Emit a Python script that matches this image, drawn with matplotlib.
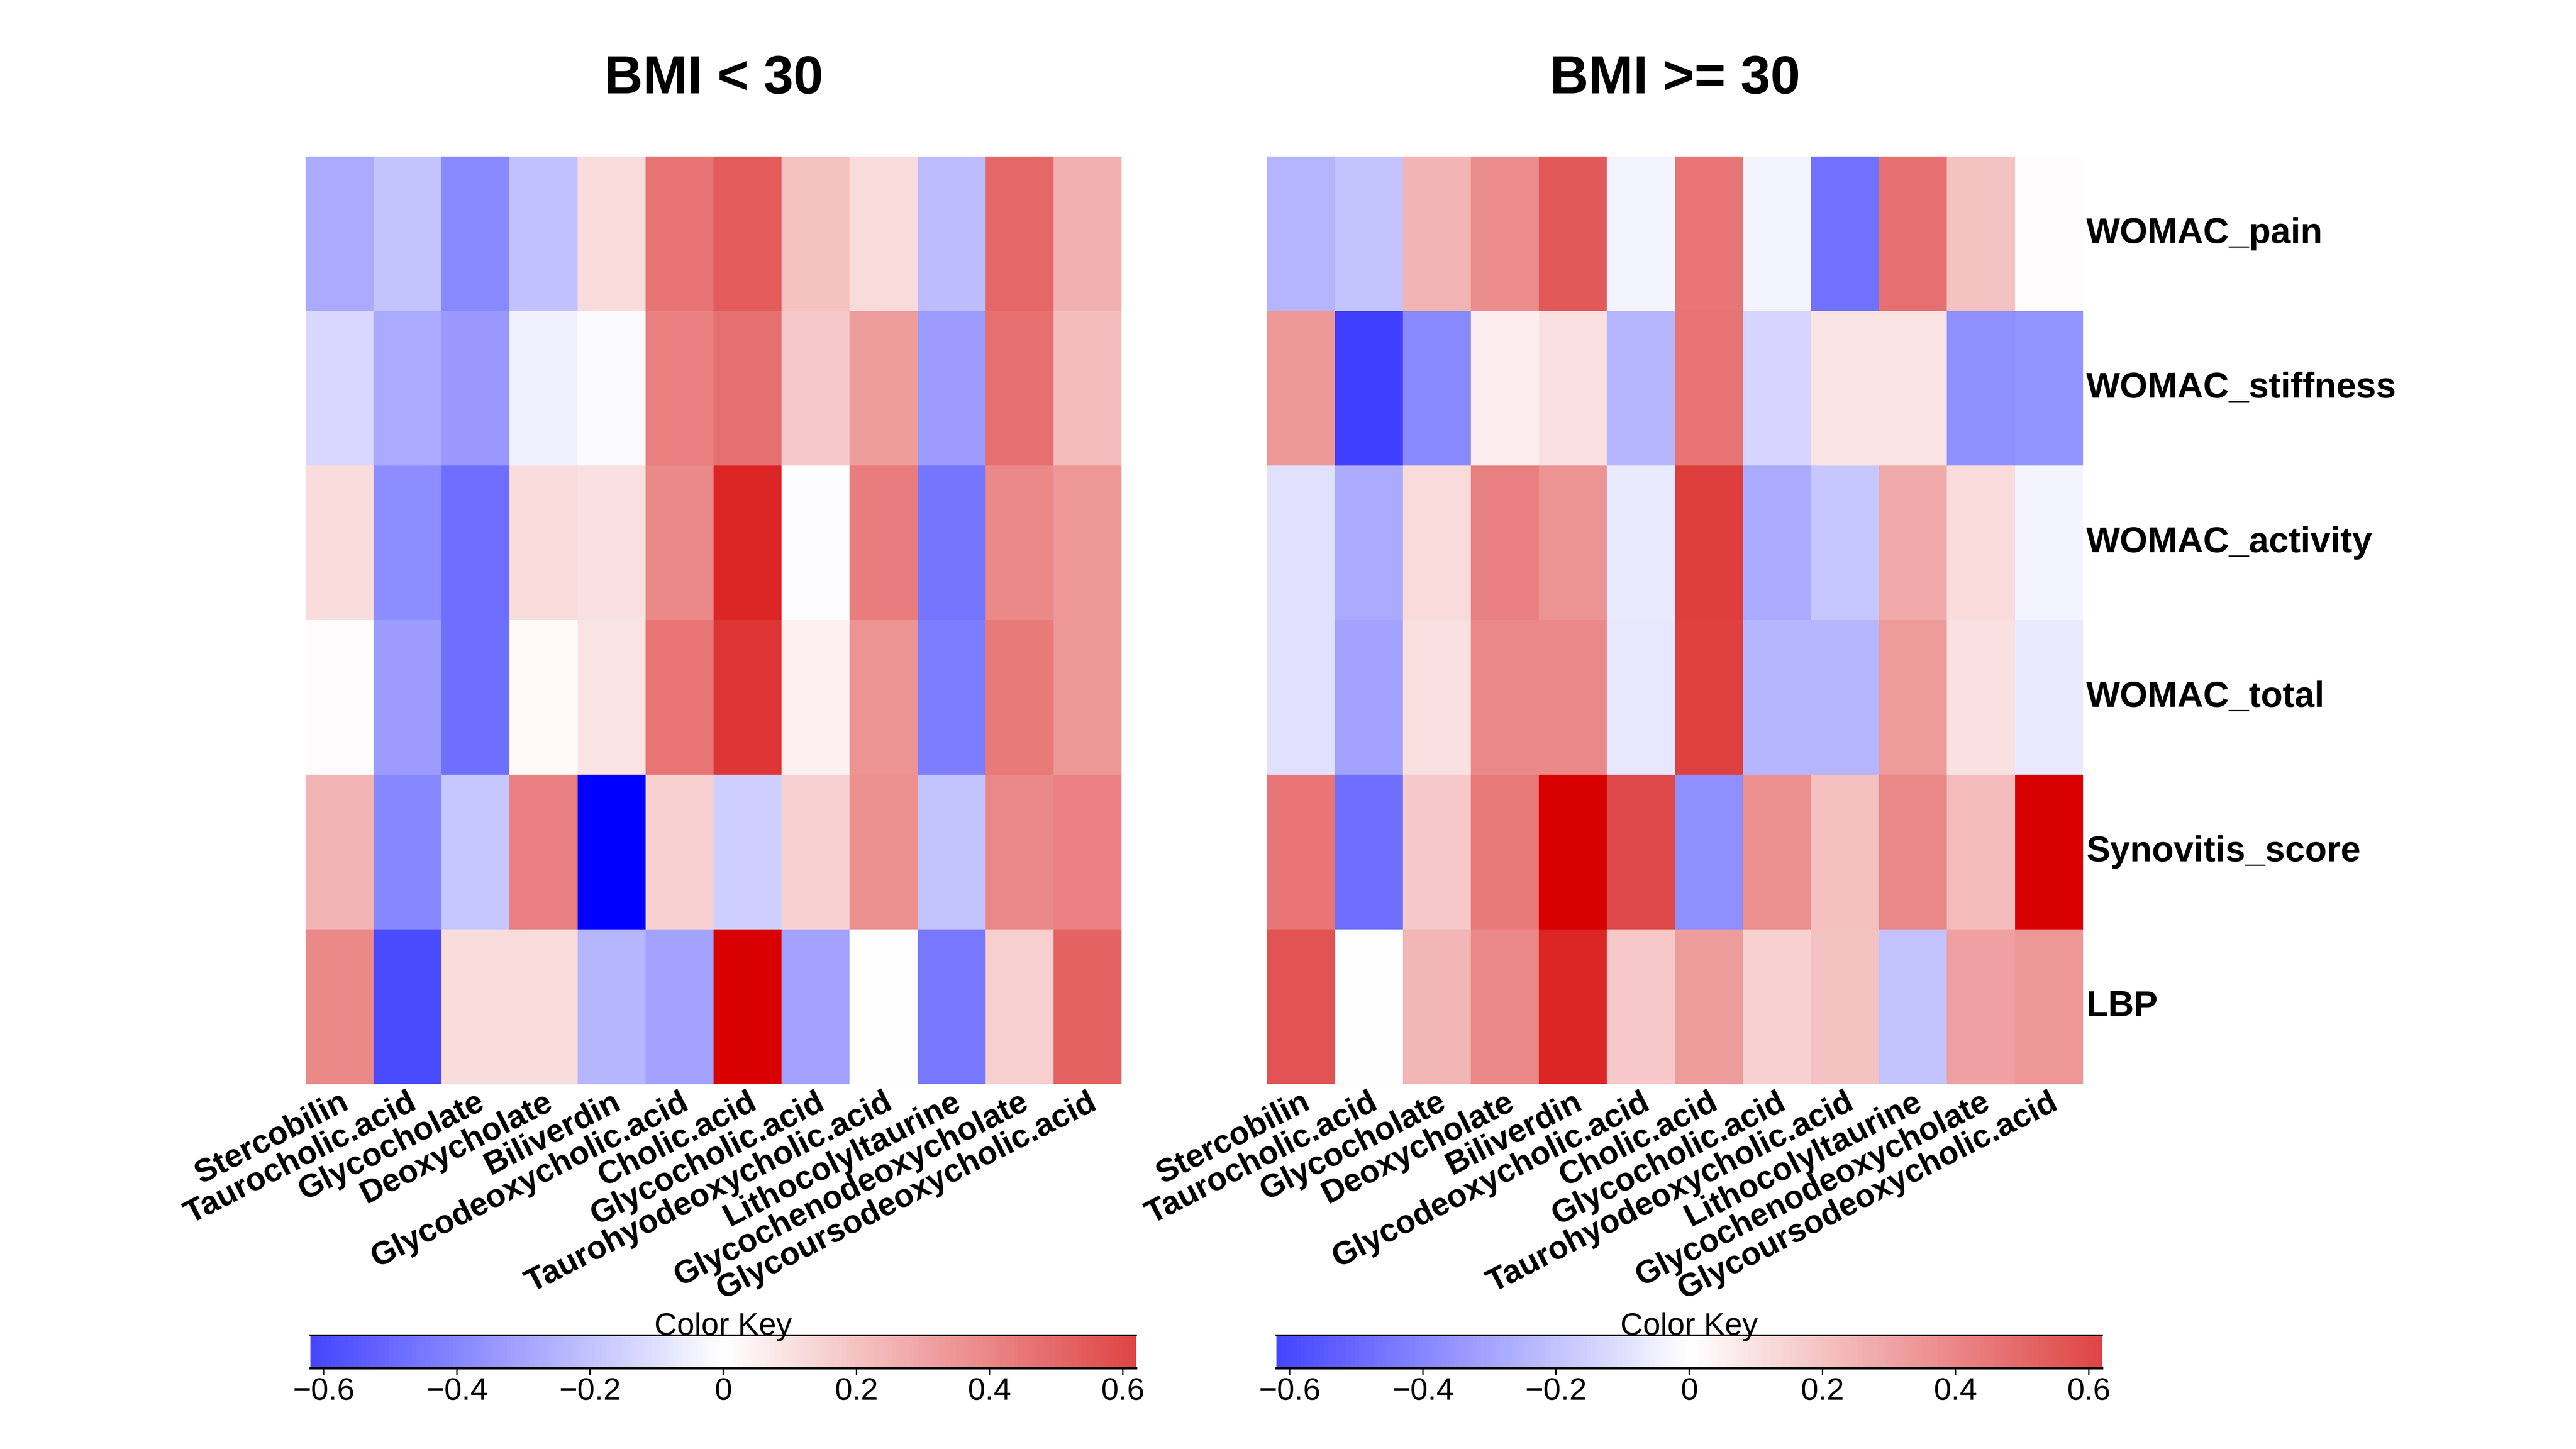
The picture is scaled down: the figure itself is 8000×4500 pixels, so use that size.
import numpy as np
import matplotlib.pyplot as plt
from matplotlib.colors import LinearSegmentedColormap, Normalize

plt.rcParams['font.family'] = ['Liberation Sans', 'DejaVu Sans']

metabolites = ['Stercobilin', 'Taurocholic.acid', 'Glycocholate', 'Deoxycholate',
               'Biliverdin', 'Glycodeoxycholic.acid', 'Cholic.acid', 'Glycocholic.acid',
               'Taurohyodeoxycholic.acid', 'Lithocolyltaurine', 'Glycochenodeoxycholate',
               'Glycoursodeoxycholic.acid']
outcomes = ['WOMAC_pain', 'WOMAC_stiffness', 'WOMAC_activity', 'WOMAC_total',
            'Synovitis_score', 'LBP']

# correlations, BMI < 30 (rows = outcomes, cols = metabolites)
corr_low = [
    [-0.28, -0.20, -0.39, -0.21, 0.12, 0.46, 0.54, 0.20, 0.12, -0.22, 0.50, 0.26],
    [-0.13, -0.28, -0.34, -0.05, -0.02, 0.42, 0.47, 0.18, 0.32, -0.33, 0.47, 0.22],
    [0.11, -0.38, -0.48, 0.11, 0.10, 0.39, 0.73, -0.01, 0.43, -0.46, 0.39, 0.34],
    [0.01, -0.33, -0.48, 0.02, 0.09, 0.45, 0.67, 0.05, 0.36, -0.43, 0.44, 0.34],
    [0.25, -0.40, -0.19, 0.42, -0.90, 0.16, -0.16, 0.15, 0.37, -0.20, 0.39, 0.41],
    [0.39, -0.60, 0.11, 0.11, -0.24, -0.31, 0.90, -0.31, 0.00, -0.45, 0.16, 0.52],
]

# correlations, BMI >= 30
corr_high = [
    [-0.25, -0.20, 0.25, 0.38, 0.55, -0.04, 0.45, -0.04, -0.47, 0.47, 0.20, 0.01],
    [0.34, -0.64, -0.39, 0.06, 0.10, -0.24, 0.46, -0.14, 0.09, 0.09, -0.37, -0.36],
    [-0.10, -0.28, 0.12, 0.42, 0.36, -0.07, 0.64, -0.28, -0.19, 0.28, 0.12, -0.04],
    [-0.10, -0.31, 0.10, 0.39, 0.39, -0.08, 0.63, -0.24, -0.24, 0.33, 0.10, -0.07],
    [0.45, -0.48, 0.18, 0.44, 0.90, 0.60, -0.37, 0.37, 0.21, 0.40, 0.22, 0.90],
    [0.57, 0.00, 0.24, 0.39, 0.73, 0.18, 0.32, 0.15, 0.20, -0.20, 0.31, 0.34],
]

titles = ['BMI < 30', 'BMI >= 30']
key_ticks = [-0.6, -0.4, -0.2, 0, 0.2, 0.4, 0.6]
key_labels = ['\u22120.6', '\u22120.4', '\u22120.2', '0', '0.2', '0.4', '0.6']

# blue - white - red key, range about +-0.87
lim = 0.87
cmap = LinearSegmentedColormap.from_list('bwr_key', [
    (0.0, '#0000FF'),
    ((lim - 0.6) / (2 * lim), '#4B4BFF'),
    (0.5, '#FFFFFF'),
    ((lim + 0.6) / (2 * lim), '#E04A4A'),
    (1.0, '#D80000'),
])
norm = Normalize(vmin=-lim, vmax=lim)

fig = plt.figure(figsize=(16, 9), dpi=500)

heat_x = [0.1186, 0.4918]
heat_w = 0.3168
key_x = [0.1205, 0.4955]
key_w = 0.3205

for i, data in enumerate([corr_low, corr_high]):
    ax = fig.add_axes([heat_x[i], 0.252, heat_w, 0.640])
    arr = np.array(data)
    ax.pcolormesh(arr, cmap=cmap, norm=norm)
    ax.set_xlim(0, len(metabolites))
    ax.set_ylim(len(outcomes), 0)
    for s in ax.spines.values():
        s.set_visible(False)
    ax.set_xticks([])
    ax.set_yticks([])

    # column labels
    for j, name in enumerate(metabolites):
        ax.text(j + 0.5, len(outcomes) + 0.02, name, rotation=27, ha='right', va='top',
                rotation_mode='anchor', fontsize=14.5, fontweight='bold')

    # row labels only on the right panel
    if i == 1:
        for k, name in enumerate(outcomes):
            ax.text(len(metabolites) + 0.05, k + 0.5, name, ha='left', va='center',
                    fontsize=16, fontweight='bold')

    fig.text(heat_x[i] + heat_w / 2, 0.945, titles[i], ha='center', va='center',
             fontsize=24, fontweight='bold')

    # colour key
    kax = fig.add_axes([key_x[i], 0.0557, key_w, 0.0227])
    grad = np.linspace(-0.62, 0.62, 400)
    kax.pcolormesh(grad, [0, 1], grad[np.newaxis, :-1], cmap=cmap, norm=norm)
    kax.set_xlim(-0.62, 0.62)
    kax.set_ylim(0, 1)
    kax.set_yticks([])
    kax.set_xticks(key_ticks)
    kax.set_xticklabels(key_labels, fontsize=14)
    kax.tick_params(axis='x', length=3, width=0.6, pad=1)
    kax.spines['left'].set_visible(False)
    kax.spines['right'].set_visible(False)
    kax.spines['top'].set_linewidth(0.8)
    kax.spines['bottom'].set_linewidth(1.0)
    kax.text(0.5, 1.02, 'Color Key', transform=kax.transAxes, ha='center', va='baseline',
             fontsize=14)

fig.savefig('out.png', dpi=500)
